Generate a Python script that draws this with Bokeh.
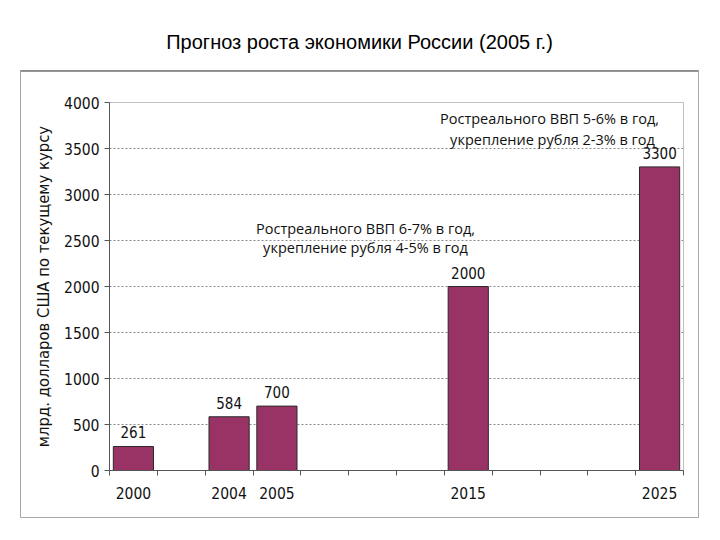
from bokeh.plotting import figure
from bokeh.models import ColumnDataSource, Range1d, FixedTicker, Label
from bokeh.embed import file_html
from bokeh.resources import INLINE

# ---- data ----
slot_labels = ["2000", "", "2004", "2005", "", "", "", "2015", "", "", "", "2025"]
years = ["2000", "2004", "2005", "2015", "2025"]
gdp = [261, 584, 700, 2000, 3300]
y_ticks = [0, 500, 1000, 1500, 2000, 2500, 3000, 3500, 4000]

title_text = "Прогноз роста экономики России (2005 г.)"
y_label = "млрд. долларов США по текущему курсу"
note1 = ["Ростреального ВВП 6-7% в год,", "укрепление рубля 4-5% в год"]
note2 = ["Ростреального ВВП 5-6% в год,", "укрепление рубля 2-3% в год"]

NUM_FONT = "DejaVu Sans Condensed"

# ---- layout (pixels on the canvas) ----
W, H = 712, 532
BL, BR, BT, BB = 20, 698, 70, 517       # outer box = plot frame
FL, FR, FT, FB = 109, 683, 102, 470     # inner plotting area
X0, X1 = -0.5, len(slot_labels) - 0.5
Y0, Y1 = 0, 4000


def px_x(px):
    return X0 + (px - FL) / (FR - FL) * (X1 - X0)


def px_y(py):
    return Y0 + (FB - py) / (FB - FT) * (Y1 - Y0)


x_pos = [slot_labels.index(y) for y in years]
src = ColumnDataSource(dict(x=x_pos, top=gdp, label=[str(v) for v in gdp]))

p = figure(width=W, height=H, output_backend="svg", toolbar_location=None,
           x_range=Range1d(px_x(BL), px_x(BR)), y_range=Range1d(px_y(BB), px_y(BT)),
           min_border_left=BL, min_border_right=W - BR,
           min_border_top=BT, min_border_bottom=H - BB)

p.background_fill_color = "white"
p.border_fill_color = "white"
p.outline_line_color = "#a8a8a8"
p.outline_line_width = 1

p.title.text = title_text
p.title.align = "center"
p.title.text_font = "Liberation Sans"
p.title.text_font_size = "20px"
p.title.text_font_style = "normal"
p.title.text_color = "#000000"
p.title.standoff = 35

# dark top edge of the outer box
p.segment(x0=[px_x(BL)], x1=[px_x(BR)], y0=[px_y(BT + 0.5)], y1=[px_y(BT + 0.5)],
          line_color="#333333", line_width=1)

# grid lines limited to the inner plotting area
p.xgrid.visible = False
p.ygrid.visible = False
inner_grid = y_ticks[1:-1]
p.segment(x0=[X0] * len(inner_grid), x1=[X1] * len(inner_grid), y0=inner_grid, y1=inner_grid,
          line_color="#8a8a8a", line_dash="2 2", line_width=1)
# light top and right borders of the inner plotting area
p.segment(x0=[X0, X1], x1=[X1, X1], y0=[Y1, Y0], y1=[Y1, Y1],
          line_color="#c0c0c0", line_width=1)

p.vbar(x="x", top="top", width=0.84, source=src, fill_color="#993366",
       line_color="#2a2a2a", line_width=1)

p.text(x="x", y="top", text="label", source=src, text_align="center",
       text_baseline="middle", y_offset=-14, text_font_size="15px",
       text_font={"value": NUM_FONT}, text_color="#111111")

# y axis, drawn at the inner area's left edge
p.yaxis.fixed_location = X0
p.yaxis.bounds = (Y0, Y1)
p.yaxis.ticker = FixedTicker(ticks=y_ticks)
p.yaxis.axis_label = y_label
p.yaxis.axis_label_text_font = NUM_FONT
p.yaxis.axis_label_text_font_size = "16.5px"
p.yaxis.axis_label_text_font_style = "normal"
p.yaxis.axis_label_text_color = "#111111"
p.yaxis.axis_label_standoff = 8
p.yaxis.major_label_text_font = NUM_FONT
p.yaxis.major_label_text_font_size = "15.5px"
p.yaxis.major_label_text_color = "#111111"
p.yaxis.major_tick_out = 5
p.yaxis.major_tick_in = 0
p.yaxis.minor_tick_out = 0
p.yaxis.minor_tick_in = 0
p.yaxis.major_label_standoff = 5
p.yaxis.axis_line_color = "#555555"
p.yaxis.major_tick_line_color = "#555555"

# x axis at y = 0: labels at slot centres, ticks at slot boundaries
centres = list(range(len(slot_labels)))
bounds = [i - 0.5 for i in range(len(slot_labels) + 1)]
p.xaxis.fixed_location = Y0
p.xaxis.bounds = (X0, X1)
p.xaxis.ticker = FixedTicker(ticks=centres, minor_ticks=bounds)
p.xaxis.major_label_overrides = {i: lab for i, lab in enumerate(slot_labels)}
p.xaxis.major_label_text_font = NUM_FONT
p.xaxis.major_label_text_font_size = "15.5px"
p.xaxis.major_label_text_color = "#111111"
p.xaxis.major_tick_out = 0
p.xaxis.major_tick_in = 0
p.xaxis.minor_tick_out = 5
p.xaxis.minor_tick_in = 0
p.xaxis.minor_tick_line_color = "#555555"
p.xaxis.major_label_standoff = 11
p.xaxis.axis_line_color = "#555555"

# notes (placed by pixel position)
for (txt, xx, yy) in [(note1[0], 365, 228), (note1[1], 365, 247),
                      (note2[0], 549, 118), (note2[1], 552, 139)]:
    p.add_layout(Label(x=px_x(xx), y=px_y(yy), text=txt, text_align="center",
                       text_baseline="middle", text_font="Open Sans",
                       text_font_size="14.5px", text_color="#111111"))

open("out.html", "w").write(file_html(p, INLINE))
